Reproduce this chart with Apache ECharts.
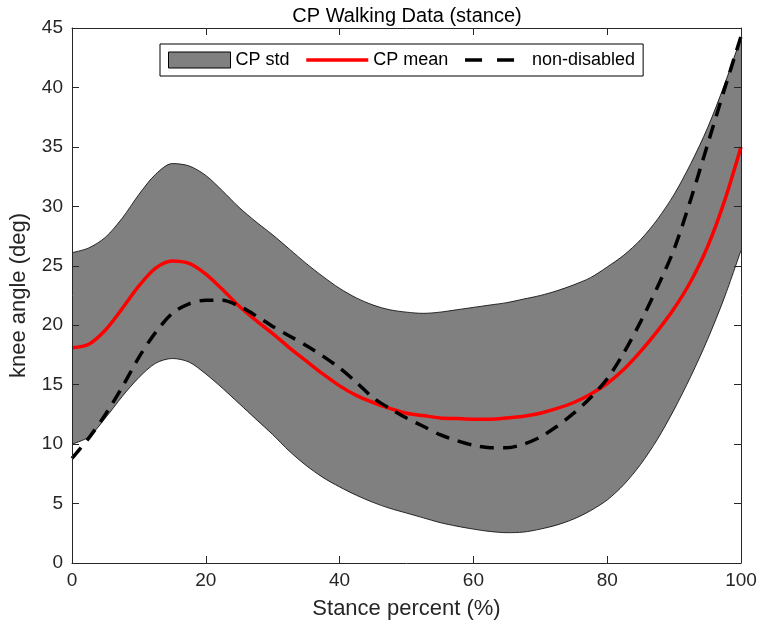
<!DOCTYPE html>
<html>
<head>
<meta charset="utf-8">
<script src="https://cdn.jsdelivr.net/npm/echarts@6/dist/echarts.min.js"></script>
<style>
html,body{margin:0;padding:0;background:#fff;}
#chart{width:761px;height:630px;}
</style>
</head>
<body>
<div id="chart"></div>
<script>
// Stance percent (x)
const stancePct = [0, 2.5, 5, 7.5, 10, 12.5, 15, 17.5, 20, 22.5, 25, 27.5, 30, 32.5, 35, 37.5, 40, 42.5, 45, 47.5, 50,
  52.5, 55, 57.5, 60, 62.5, 65, 67.5, 70, 72.5, 75, 77.5, 80, 82.5, 85, 87.5, 90, 92.5, 95, 97.5, 100];
// CP mean + std (upper edge of band)
const cpUpper = [26.1, 26.5, 27.4, 29.0, 31.0, 32.7, 33.6, 33.4, 32.6, 31.3, 29.9, 28.7, 27.6, 26.4, 25.2, 24.1, 23.1, 22.3, 21.7, 21.3, 21.1,
  21.0, 21.1, 21.3, 21.5, 21.7, 21.9, 22.2, 22.5, 22.9, 23.4, 24.0, 24.9, 25.9, 27.2, 28.9, 31.0, 33.6, 36.6, 40.2, 44.2];
// CP mean - std (lower edge of band)
const cpLower = [10.0, 10.6, 12.2, 14.0, 15.6, 16.8, 17.2, 16.9, 15.9, 14.7, 13.4, 12.1, 10.8, 9.4, 8.2, 7.2, 6.4, 5.7, 5.1, 4.6, 4.2,
  3.8, 3.4, 3.1, 2.85, 2.65, 2.55, 2.6, 2.85, 3.2, 3.7, 4.4, 5.3, 6.6, 8.3, 10.4, 12.9, 15.7, 18.8, 22.3, 26.3];
// CP mean
const cpMean = [18.1, 18.4, 19.6, 21.4, 23.3, 24.8, 25.4, 25.2, 24.3, 23.0, 21.6, 20.4, 19.3, 18.1, 17.0, 15.9, 14.9, 14.1, 13.5, 13.0, 12.6,
  12.4, 12.2, 12.15, 12.1, 12.1, 12.2, 12.35, 12.6, 13.0, 13.5, 14.2, 15.1, 16.3, 17.8, 19.5, 21.4, 23.7, 26.6, 30.4, 35.0];
// Non-disabled
const nonDisabled = [8.8, 10.5, 12.5, 14.8, 17.3, 19.4, 21.0, 21.8, 22.1, 22.1, 21.6, 20.8, 19.9, 19.1, 18.3, 17.4, 16.4, 15.2, 13.9, 13.0, 12.2,
  11.5, 10.8, 10.3, 9.9, 9.7, 9.7, 10.0, 10.6, 11.5, 12.6, 13.9, 15.5, 17.7, 20.3, 23.2, 26.4, 30.6, 35.2, 39.8, 44.3];

const pair = (xs, ys) => xs.map((x, i) => [x, ys[i]]);

const FONT = 'Liberation Sans, Arial, Helvetica, sans-serif';
const AX = '#262626';
const SMOOTH = 0.3;

const chart = echarts.init(document.getElementById('chart'), null, {renderer: 'canvas'});
const common = {
  z: 10,
  axisLine: {show: true, onZero: false, lineStyle: {color: AX, width: 1}},
  axisTick: {show: true, inside: true, length: 7, lineStyle: {color: AX, width: 1}},
  splitLine: {show: false}
};
chart.setOption({
  animation: false,
  backgroundColor: '#fff',
  title: {
    text: 'CP Walking Data (stance)',
    left: 402, top: 1, textAlign: 'center',
    textStyle: {fontFamily: FONT, fontSize: 20, fontWeight: 'normal', color: '#000'}
  },
  legend: {
    left: 160, top: 44, z: 20,
    padding: [7, 8, 7, 8],
    itemGap: 15, itemWidth: 62, itemHeight: 16,
    borderColor: '#000', borderWidth: 1, backgroundColor: '#fff',
    textStyle: {fontFamily: FONT, fontSize: 18, color: '#000'},
    data: [
      {name: 'CP std', icon: 'rect', itemStyle: {color: '#808080', borderColor: '#000', borderWidth: 1}},
      {name: 'CP mean', itemStyle: {opacity: 0}, lineStyle: {width: 3.5}},
      {name: 'non-disabled', itemStyle: {opacity: 0}, lineStyle: {width: 3.5, type: [17, 15]}}
    ]
  },
  grid: {left: 64, right: 20, top: 28, bottom: 67, containLabel: false},
  xAxis: [
    Object.assign({
      type: 'value', min: 0, max: 100, interval: 20, position: 'bottom',
      name: 'Stance percent (%)', nameLocation: 'middle', nameGap: 35,
      nameTextStyle: {fontFamily: FONT, fontSize: 22, color: AX},
      axisLabel: {fontFamily: FONT, fontSize: 19, color: AX, margin: 8}
    }, common),
    Object.assign({
      type: 'value', min: 0, max: 100, interval: 20, position: 'top',
      axisLabel: {show: false}
    }, common)
  ],
  yAxis: [
    Object.assign({
      type: 'value', min: 0, max: 45, interval: 5, position: 'left',
      name: 'knee angle (deg)', nameLocation: 'middle', nameGap: 42,
      nameTextStyle: {fontFamily: FONT, fontSize: 22, color: AX},
      axisLabel: {fontFamily: FONT, fontSize: 19, color: AX, margin: 9}
    }, common),
    Object.assign({
      type: 'value', min: 0, max: 45, interval: 5, position: 'right',
      axisLabel: {show: false}
    }, common)
  ],
  series: [
    {
      name: 'CP std', type: 'line', data: pair(stancePct, cpUpper),
      symbol: 'none', smooth: SMOOTH, silent: true, z: 2,
      lineStyle: {color: '#000', width: 0.8},
      itemStyle: {color: '#808080'},
      areaStyle: {color: '#808080', opacity: 1}
    },
    {
      name: 'stdLower', type: 'line', data: pair(stancePct, cpLower),
      symbol: 'none', smooth: SMOOTH, silent: true, z: 3,
      lineStyle: {color: '#000', width: 0.8},
      areaStyle: {color: '#ffffff', opacity: 1}
    },
    {
      name: 'CP mean', type: 'line', data: pair(stancePct, cpMean),
      symbol: 'none', smooth: SMOOTH, z: 4,
      lineStyle: {color: '#ff0000', width: 3.5},
      itemStyle: {color: '#ff0000'}
    },
    {
      name: 'non-disabled', type: 'line', data: pair(stancePct, nonDisabled),
      symbol: 'none', smooth: SMOOTH, z: 5,
      lineStyle: {color: '#000', width: 3.5, type: [14, 9]},
      itemStyle: {color: '#000'}
    }
  ]
});
</script>
</body>
</html>
